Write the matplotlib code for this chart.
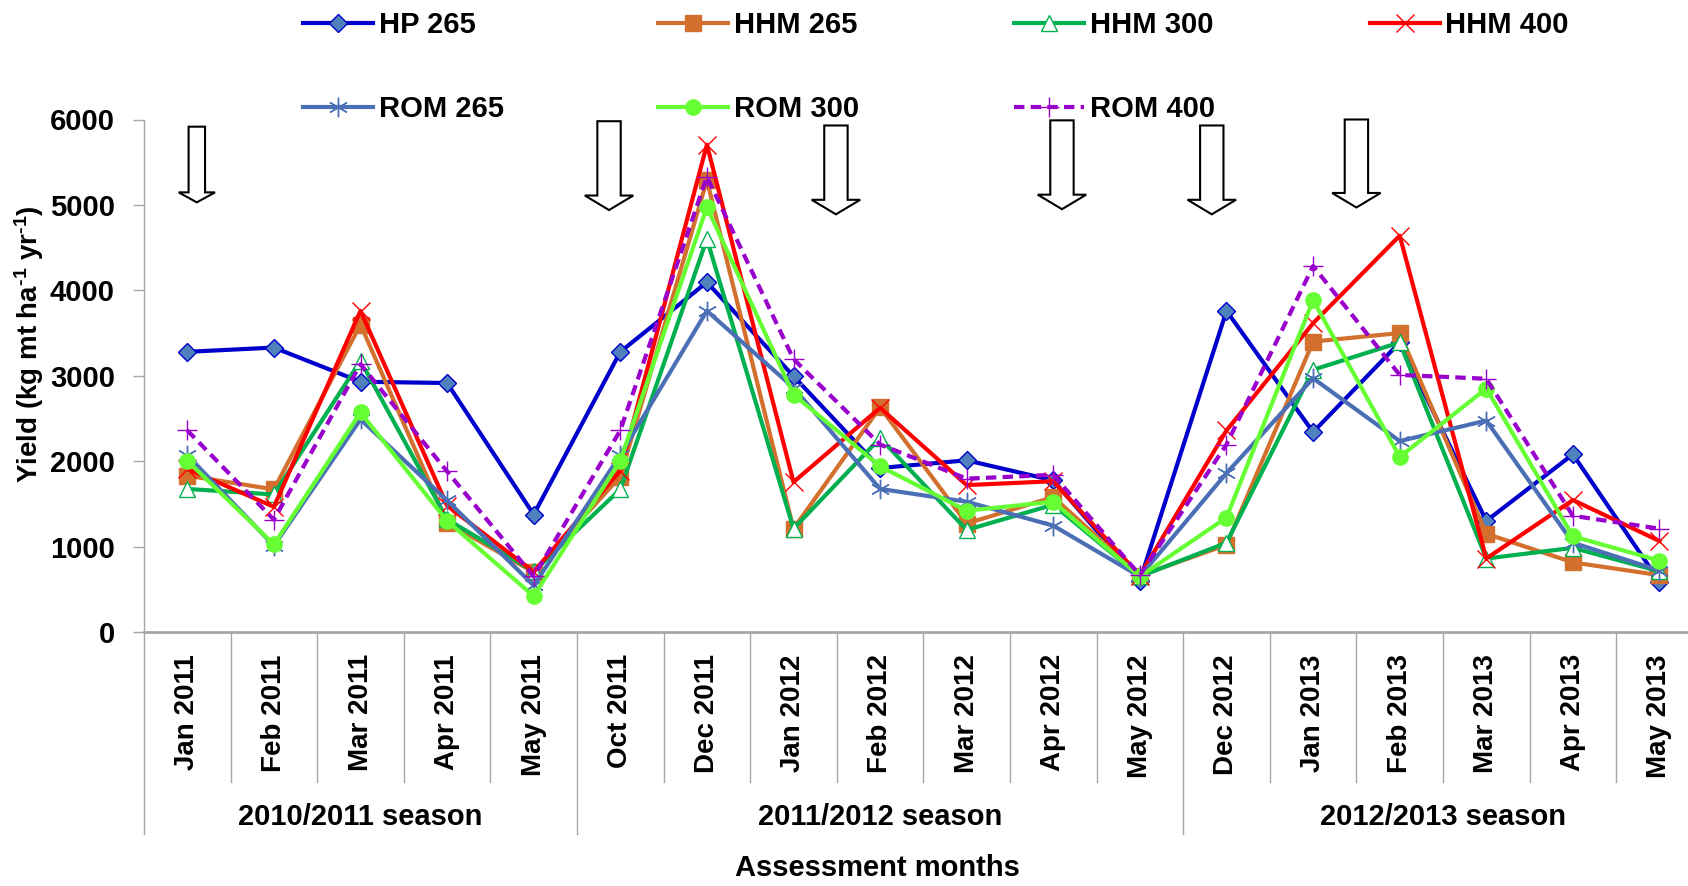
import numpy as np
import matplotlib.pyplot as plt
import matplotlib.transforms as mtransforms
from matplotlib.patches import FancyArrow

plt.rcParams['font.family'] = ['Liberation Sans', 'DejaVu Sans']
plt.rcParams['font.weight'] = 'bold'
plt.rcParams['mathtext.fontset'] = 'custom'
plt.rcParams['mathtext.rm'] = 'Liberation Sans:bold'
plt.rcParams['mathtext.bf'] = 'Liberation Sans:bold'
plt.rcParams['mathtext.default'] = 'bf'

months = ["Jan 2011", "Feb 2011", "Mar 2011", "Apr 2011", "May 2011",
          "Oct 2011", "Dec 2011", "Jan 2012", "Feb 2012", "Mar 2012", "Apr 2012", "May 2012",
          "Dec 2012", "Jan 2013", "Feb 2013", "Mar 2013", "Apr 2013", "May 2013"]
seasons = ["2010/2011 season", "2011/2012 season", "2012/2013 season"]
season_len = [5, 7, 6]

hp265 = [3280, 3330, 2930, 2915, 1375, 3280, 4095, 2995, 1920, 2010, 1775, 600,
         3760, 2340, 3390, 1300, 2080, 590]
hhm265 = [1830, 1670, 3600, 1280, 700, 1820, 5290, 1210, 2630, 1270, 1580, 660,
          1020, 3400, 3500, 1150, 815, 665]
hhm300 = [1675, 1610, 3175, 1320, 710, 1670, 4600, 1210, 2270, 1195, 1490, 650,
          1045, 3070, 3390, 860, 985, 710]
hhm400 = [1910, 1465, 3760, 1480, 705, 1890, 5705, 1755, 2625, 1720, 1765, 660,
          2360, 3615, 4640, 860, 1545, 1065]
rom265 = [2070, 1010, 2490, 1540, 545, 2070, 3760, 2860, 1675, 1525, 1245, 650,
          1860, 2970, 2235, 2475, 1045, 720]
rom300 = [2005, 1025, 2570, 1300, 420, 2005, 4975, 2780, 1940, 1420, 1525, 650,
          1340, 3885, 2050, 2850, 1120, 835]
rom400 = [2360, 1315, 3135, 1880, 650, 2360, 5330, 3195, 2195, 1795, 1840, 665,
          2195, 4285, 3010, 2965, 1360, 1210]

series = [
    ("HP 265", hp265, dict(color="#0000CC", marker="D", ms=9, mfc="#4F81BD", mec="#0000CC", mew=1)),
    ("HHM 265", hhm265, dict(color="#D4702E", marker="s", ms=11, mfc="#D4702E", mec="#D4702E")),
    ("HHM 300", hhm300, dict(color="#00B050", marker="^", ms=11, mfc="white", mec="#00B050", mew=1)),
    ("HHM 400", hhm400, dict(color="#FF0000", marker="x", ms=13, mec="#FF0000", mew=1)),
    ("ROM 265", rom265, dict(color="#4A6FB5", marker=(6, 2, 0), ms=14, mec="#4A6FB5", mew=1)),
    ("ROM 300", rom300, dict(color="#66FF33", marker="o", ms=11, mfc="#66FF33", mec="#66FF33")),
    ("ROM 400", rom400, dict(color="#9900CC", marker="+", ms=14, mec="#9900CC", mew=1, ls=(0, (2.5, 1.5)))),
]

# arrows: x position, top, tip, shaft width, head width, head length
arrows = [(0.11, 5916, 5030, 0.19, 0.42, 117),
          (4.87, 5980, 4940, 0.27, 0.56, 170),
          (7.49, 5930, 4890, 0.27, 0.56, 170),
          (10.10, 5990, 4950, 0.27, 0.56, 170),
          (11.83, 5930, 4890, 0.27, 0.56, 170),
          (13.50, 6000, 4970, 0.27, 0.56, 170)]

W, H = 1688, 886
fig = plt.figure(figsize=(W / 100, H / 100), dpi=100)
ax = fig.add_axes([144 / W, (H - 632) / H, (W - 144) / W, (632 - 119.5) / H])

x = np.arange(len(months))
handles = []
for name, vals, st in series:
    st = dict(st)
    ls = st.pop("ls", "-")
    h, = ax.plot(x, vals, lw=3, ls=ls, label=name, clip_on=False, **st)
    handles.append(h)

for ax_x, top, tip, sw, hw, hl in arrows:
    ax.add_patch(FancyArrow(ax_x, top, 0, tip - top, width=sw, head_width=hw, head_length=hl,
                            length_includes_head=True, fc="white", ec="black", lw=1.5,
                            clip_on=False, zorder=5))

ax.set_xlim(-0.5, -0.5 + (W - 144) / 86.6)
ax.set_ylim(0, 6000)
ax.set_yticks(range(0, 6001, 1000))
ax.tick_params(axis="y", length=8, width=1, color="#A6A6A6", pad=13, labelsize=21)
ax.set_xticks(x)
ax.set_xticklabels(months, rotation=90)
ax.tick_params(axis="x", length=0, pad=16, labelsize=20)
for s in ["top", "right"]:
    ax.spines[s].set_visible(False)
ax.spines["left"].set_color("#A6A6A6")
ax.spines["left"].set_linewidth(1)
ax.spines["bottom"].set_color("#A6A6A6")
ax.spines["bottom"].set_linewidth(2)

# category separators below the axis
trans = mtransforms.blended_transform_factory(ax.transData, ax.transAxes)
ax_h = 632 - 119.5
month_bot = -(782 - 632) / ax_h
season_bot = -(834 - 632) / ax_h
bounds = np.cumsum([0] + season_len) - 0.5
for i in range(len(months)):
    xb = i - 0.5
    bot = season_bot if xb in bounds else month_bot
    ax.plot([xb, xb], [0, bot], color="#A6A6A6", lw=1, transform=trans, clip_on=False)
for j, name in enumerate(seasons):
    ax.text((bounds[j] + bounds[j + 1]) / 2, -(817 - 632) / ax_h, name, transform=trans,
            ha="center", va="center", fontsize=21)

fig.text(877 / W, 1 - 868 / H, "Assessment months", ha="center", va="center", fontsize=21)
fig.text(29 / W, 1 - 344 / H, r"Yield (kg mt ha$^{\text{-1}}$ yr$^{\text{-1}}$)", rotation=90,
         ha="center", va="center", fontsize=20)

order = [0, 4, 1, 5, 2, 6, 3]
fig.legend([handles[i] for i in order], [series[i][0] for i in order], ncol=4,
           loc="upper left", bbox_to_anchor=(303 / W, 1 - 11 / H), frameon=False, fontsize=21,
           handlelength=2.4, handletextpad=0.2, columnspacing=5.3, labelspacing=1.93,
           borderpad=0, borderaxespad=0)

fig.savefig("out.png", dpi=100)
